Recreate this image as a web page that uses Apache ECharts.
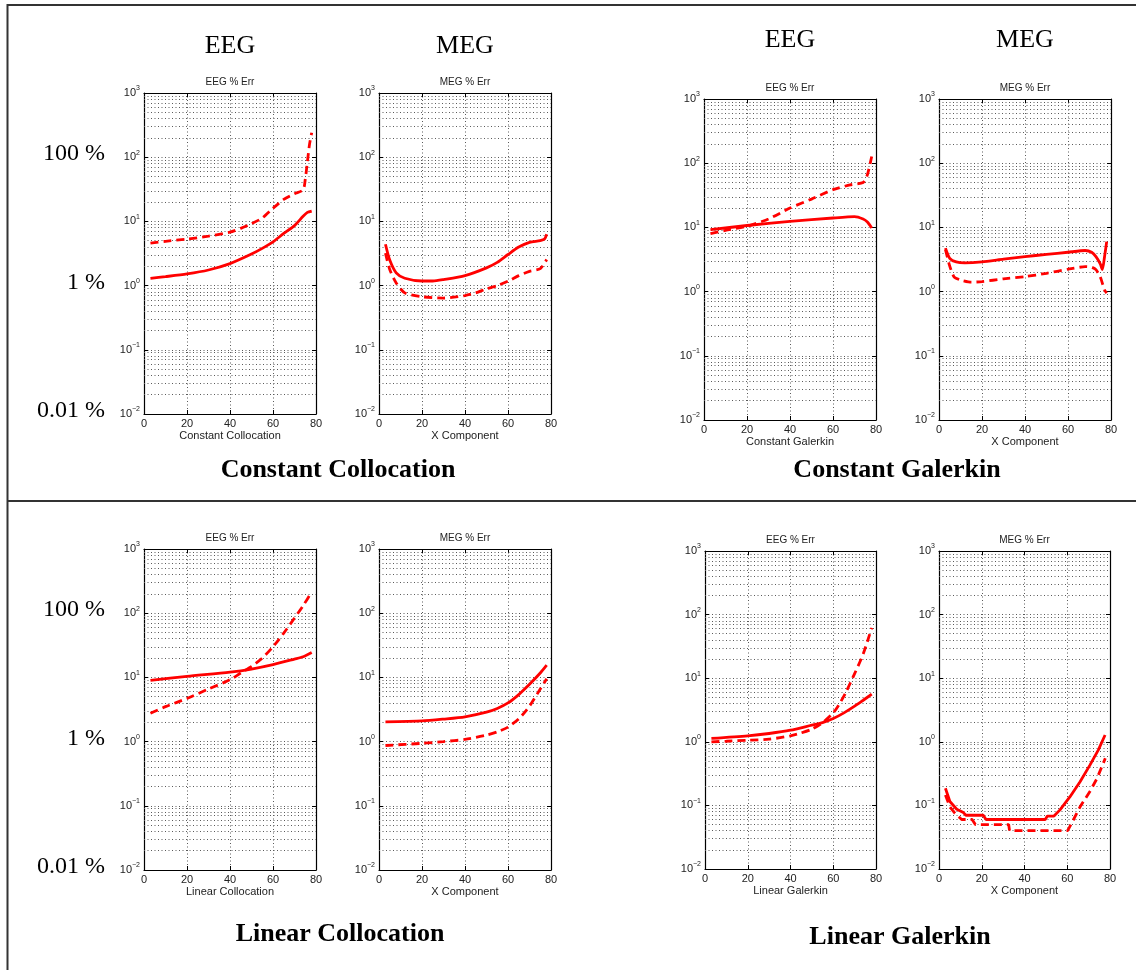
<!DOCTYPE html>
<html><head><meta charset="utf-8">
<script src="https://cdn.jsdelivr.net/npm/echarts@6/dist/echarts.min.js"></script>
<style>html,body{margin:0;padding:0;background:#fff}#c{width:1136px;height:970px}</style>
</head><body><div id="c"></div><script>
// ---------- data ----------
const xTicks = [0, 20, 40, 60, 80];
const yDecades = [0.01, 0.1, 1, 10, 100, 1000];
const yMinorSteps = [2, 3, 4, 5, 6, 7, 8, 9];
const percentLabels = ['100 %', '1 %', '0.01 %'];
const percentValues = [100, 1, 0.01];
const headings = ['EEG', 'MEG'];
const sectionTitles = ['Constant Collocation', 'Constant Galerkin', 'Linear Collocation', 'Linear Galerkin'];
const panelTitles = ['EEG % Err', 'MEG % Err'];
const xNames = ['Constant Collocation', 'X Component', 'Constant Galerkin', 'X Component',
                'Linear Collocation', 'X Component', 'Linear Galerkin', 'X Component'];

// Constant Collocation – EEG
const ccEegSolidX = [3, 10, 20, 30, 40, 50, 55, 60, 65, 70, 74, 76, 78];
const ccEegSolidY = [1.3, 1.38, 1.52, 1.75, 2.2, 3.1, 3.8, 4.8, 6.5, 8.6, 12, 13.8, 14.5];
const ccEegDashX = [3, 10, 20, 30, 40, 45, 50, 55, 60, 65, 70, 74, 75, 76, 77, 78];
const ccEegDashY = [4.6, 4.9, 5.3, 5.9, 6.8, 7.8, 9.2, 11.3, 16, 22, 27, 31, 45, 85, 160, 240];
// Constant Collocation – MEG
const ccMegSolidX = [3, 5, 8, 12, 20, 25, 30, 40, 50, 55, 60, 65, 70, 75, 77, 78];
const ccMegSolidY = [4.4, 2.5, 1.58, 1.3, 1.18, 1.18, 1.24, 1.43, 1.89, 2.3, 3.05, 3.98, 4.7, 5.0, 5.3, 6.3];
const ccMegDashX = [3, 5, 8, 12, 20, 30, 40, 45, 50, 55, 60, 65, 70, 75, 78];
const ccMegDashY = [3.2, 1.78, 1.1, 0.77, 0.67, 0.64, 0.7, 0.77, 0.89, 1.0, 1.17, 1.43, 1.67, 1.84, 2.55];
// Constant Galerkin – EEG
const cgEegSolidX = [3, 20, 40, 60, 70, 74, 76, 78];
const cgEegSolidY = [9.2, 10.7, 12.4, 14, 14.7, 13.5, 12.1, 9.8];
const cgEegDashX = [3, 10, 20, 30, 40, 50, 60, 68, 74, 76, 78];
const cgEegDashY = [8, 9, 10.4, 13.5, 20, 27.6, 38.7, 46, 50, 66, 127];
// Constant Galerkin – MEG
const cgMegSolidX = [3, 5, 8, 12, 20, 30, 40, 50, 60, 68, 71, 73, 75, 76, 77, 78];
const cgMegSolidY = [4.76, 3.3, 2.9, 2.8, 2.9, 3.2, 3.5, 3.8, 4.1, 4.37, 4.1, 3.5, 2.7, 2.2, 3.5, 6.0];
const cgMegDashX = [3, 5, 7, 10, 15, 20, 30, 40, 50, 60, 68, 71, 73, 75, 77, 78];
const cgMegDashY = [4.5, 2.5, 1.7, 1.52, 1.4, 1.43, 1.58, 1.71, 1.93, 2.23, 2.45, 2.4, 2.2, 1.7, 1.06, 0.95];
// Linear Collocation – EEG
const lcEegSolidX = [3, 20, 40, 50, 60, 70, 74, 78];
const lcEegSolidY = [9, 10.4, 12.1, 13.5, 15.8, 19.3, 21, 24.5];
const lcEegDashX = [3, 10, 20, 30, 40, 45, 50, 55, 60, 65, 70, 74, 78];
const lcEegDashY = [2.77, 3.5, 4.7, 6.6, 9.2, 11.7, 14.8, 20, 30, 49, 84, 131, 214];
// Linear Collocation – MEG
const lcMegSolidX = [3, 20, 30, 40, 50, 55, 60, 65, 70, 75, 78];
const lcMegSolidY = [2.03, 2.1, 2.24, 2.43, 2.87, 3.28, 4.0, 5.4, 7.8, 11.7, 15.5];
const lcMegDashX = [3, 20, 30, 40, 50, 55, 60, 65, 70, 75, 78];
const lcMegDashY = [0.87, 0.94, 1.0, 1.08, 1.26, 1.42, 1.68, 2.26, 3.57, 6.6, 9.5];
// Linear Galerkin – EEG
const lgEegSolidX = [3, 20, 30, 40, 50, 55, 60, 65, 70, 74, 78];
const lgEegSolidY = [1.13, 1.24, 1.35, 1.52, 1.83, 2.0, 2.32, 2.85, 3.63, 4.5, 5.6];
const lgEegDashX = [3, 10, 20, 30, 40, 45, 50, 55, 60, 63, 66, 70, 74, 78];
const lgEegDashY = [1.0, 1.02, 1.06, 1.1, 1.24, 1.38, 1.58, 2.0, 2.85, 4, 6.1, 11.8, 24, 62];
// Linear Galerkin – MEG
const lgMegSolidX = [3, 5.1, 8.3, 11.4, 12.6, 20.7, 22, 49.7, 50.7, 53.8, 56.6, 61.3, 66, 70.6, 74.5, 77.7];
const lgMegSolidY = [0.186, 0.115, 0.087, 0.077, 0.07, 0.07, 0.06, 0.06, 0.068, 0.068, 0.085, 0.137, 0.236, 0.43, 0.74, 1.28];
const lgMegDashX = [3, 5.1, 7.5, 10.6, 15.5, 17, 32.6, 33, 60.2, 62, 66, 70.8, 73.9, 77.8];
const lgMegDashY = [0.146, 0.095, 0.075, 0.06, 0.06, 0.05, 0.05, 0.04, 0.04, 0.052, 0.095, 0.17, 0.265, 0.55];

// ---------- layout ----------
const RED = '#ff0000';
const SANS = '"Liberation Sans", Arial, Helvetica, sans-serif';
const SERIF = '"Liberation Serif", "Times New Roman", serif';
const rects = [
  [144, 93, 172, 321], [379, 93, 172, 321],
  [704, 99, 172, 321], [939, 99, 172, 321],
  [144, 549, 172, 321], [379, 549, 172, 321],
  [705, 551, 171, 318], [939, 551, 171, 318]
];
const smoothPanel = [0.25, 0.25, 0.2, 0.2, 0.25, 0.25, 0.25, false];
const curves = [
  [ccEegSolidX, ccEegSolidY, ccEegDashX, ccEegDashY],
  [ccMegSolidX, ccMegSolidY, ccMegDashX, ccMegDashY],
  [cgEegSolidX, cgEegSolidY, cgEegDashX, cgEegDashY],
  [cgMegSolidX, cgMegSolidY, cgMegDashX, cgMegDashY],
  [lcEegSolidX, lcEegSolidY, lcEegDashX, lcEegDashY],
  [lcMegSolidX, lcMegSolidY, lcMegDashX, lcMegDashY],
  [lgEegSolidX, lgEegSolidY, lgEegDashX, lgEegDashY],
  [lgMegSolidX, lgMegSolidY, lgMegDashX, lgMegDashY]
];
const pairs = (xs, ys) => xs.map((x, i) => [x, ys[i]]);
const minorVals = [];
yDecades.slice(0, -1).forEach(d => yMinorSteps.forEach(s => minorVals.push(+(d * s).toPrecision(3))));

const GRID_COLOR = '#5a5a5a';
const gridLine = { show: true, lineStyle: { color: GRID_COLOR, type: [1, 2.5], width: 1 } };
const expLabel = v => {
  const e = Math.round(Math.log10(v));
  return '{b|10}{e|' + (e < 0 ? '\u2212' + (-e) : e) + '}';
};

const grids = [], xAxes = [], yAxes = [], series = [], graphics = [];
rects.forEach((r, i) => {
  grids.push({ left: r[0], top: r[1], width: r[2], height: r[3], show: false });
  const xi = xAxes.length, yi = yAxes.length;
  xAxes.push({
    type: 'value', gridIndex: i, min: xTicks[0], max: xTicks[xTicks.length - 1], interval: 20,
    position: 'bottom',
    name: xNames[i], nameLocation: 'middle', nameGap: 16,
    nameTextStyle: { fontFamily: SANS, fontSize: 11, color: '#222' },
    axisLine: { show: true, onZero: false, lineStyle: { color: '#000', width: 1.2 } },
    axisTick: { show: true, inside: true, length: 4, lineStyle: { color: '#000' } },
    axisLabel: { fontFamily: SANS, fontSize: 11, color: '#222', margin: 4, showMinLabel: true, showMaxLabel: true },
    splitLine: gridLine
  });
  xAxes.push({
    type: 'value', gridIndex: i, min: 0, max: 80, interval: 20, position: 'top',
    axisLine: { show: true, onZero: false, lineStyle: { color: '#000', width: 1.2 } },
    axisTick: { show: true, inside: true, length: 4, lineStyle: { color: '#000' } },
    axisLabel: { show: false }, splitLine: { show: false }
  });
  yAxes.push({
    type: 'log', logBase: 10, gridIndex: i, min: yDecades[0], max: yDecades[yDecades.length - 1],
    splitNumber: 5, position: 'left',
    axisLine: { show: true, onZero: false, lineStyle: { color: '#000', width: 1.2 } },
    axisTick: { show: true, inside: true, length: 4, lineStyle: { color: '#000' } },
    axisLabel: {
      formatter: expLabel, margin: 4, showMinLabel: true, showMaxLabel: true,
      rich: {
        b: { fontFamily: SANS, fontSize: 11, color: '#222', lineHeight: 16 },
        e: { fontFamily: SANS, fontSize: 7, color: '#222', verticalAlign: 'top', lineHeight: 8 }
      }
    },
    splitLine: gridLine
  });
  yAxes.push({
    type: 'log', logBase: 10, gridIndex: i, min: 0.01, max: 1000, splitNumber: 5, position: 'right',
    axisLine: { show: true, onZero: false, lineStyle: { color: '#000', width: 1.2 } },
    axisTick: { show: true, inside: true, length: 4, lineStyle: { color: '#000' } },
    axisLabel: { show: false }, splitLine: { show: false }
  });
  const c = curves[i];
  const sm = smoothPanel[i];
  series.push({
    type: 'line', xAxisIndex: xi, yAxisIndex: yi, data: pairs(c[0], c[1]),
    showSymbol: false, symbol: 'none', animation: false, z: 3, clip: true,
    smooth: sm,
    lineStyle: { color: RED, width: 2.8, type: 'solid' },
    markLine: {
      silent: true, symbol: 'none', animation: false, z: 1,
      label: { show: false },
      lineStyle: { color: GRID_COLOR, type: [1, 2.5], width: 1 },
      emphasis: { disabled: true },
      data: minorVals.map(v => ({ yAxis: v }))
    }
  });
  series.push({
    type: 'line', xAxisIndex: xi, yAxisIndex: yi, data: pairs(c[2], c[3]),
    showSymbol: false, symbol: 'none', animation: false, z: 3, clip: true,
    smooth: sm,
    lineStyle: { color: RED, width: 2.8, type: [8, 5] }
  });
  // panel title
  graphics.push({
    type: 'text', x: r[0] + r[2] / 2, y: r[1] - 11,
    style: { text: panelTitles[i % 2], fontFamily: SANS, fontSize: 10, fill: '#222', align: 'center', verticalAlign: 'middle' }
  });
});

// headings EEG / MEG (top row only)
[[230, 46], [465, 46], [790, 40], [1025, 40]].forEach((p, k) => {
  graphics.push({ type: 'text', x: p[0], y: p[1],
    style: { text: headings[k % 2], fontFamily: SERIF, fontSize: 26, fill: '#000', align: 'center', verticalAlign: 'middle' } });
});
// percentage labels on the left, aligned to decades of the left EEG axes
[rects[0], rects[4]].forEach(r => {
  percentLabels.forEach((t, k) => {
    const frac = (Math.log10(1000) - Math.log10(percentValues[k])) / 5;
    graphics.push({ type: 'text', x: 105, y: r[1] + frac * r[3] - 3,
      style: { text: t, fontFamily: SERIF, fontSize: 24, fill: '#000', align: 'right', verticalAlign: 'middle' } });
  });
});
// section titles
[[338, 470], [897, 470], [340, 934], [900, 937]].forEach((p, k) => {
  graphics.push({ type: 'text', x: p[0], y: p[1],
    style: { text: sectionTitles[k], fontFamily: SERIF, fontSize: 26, fontWeight: 'bold', fill: '#000', align: 'center', verticalAlign: 'middle' } });
});
// frame lines
graphics.push({ type: 'line', shape: { x1: 7.5, y1: 4, x2: 7.5, y2: 970 }, style: { stroke: '#333', lineWidth: 2 } });
graphics.push({ type: 'line', shape: { x1: 7, y1: 5, x2: 1136, y2: 5 }, style: { stroke: '#333', lineWidth: 2 } });
graphics.push({ type: 'line', shape: { x1: 7, y1: 501, x2: 1136, y2: 501 }, style: { stroke: '#333', lineWidth: 2 } });

const chart = echarts.init(document.getElementById('c'), null, { renderer: 'canvas' });
chart.setOption({
  animation: false,
  backgroundColor: '#fff',
  grid: grids, xAxis: xAxes, yAxis: yAxes, series: series,
  graphic: { elements: graphics }
});
</script></body></html>
